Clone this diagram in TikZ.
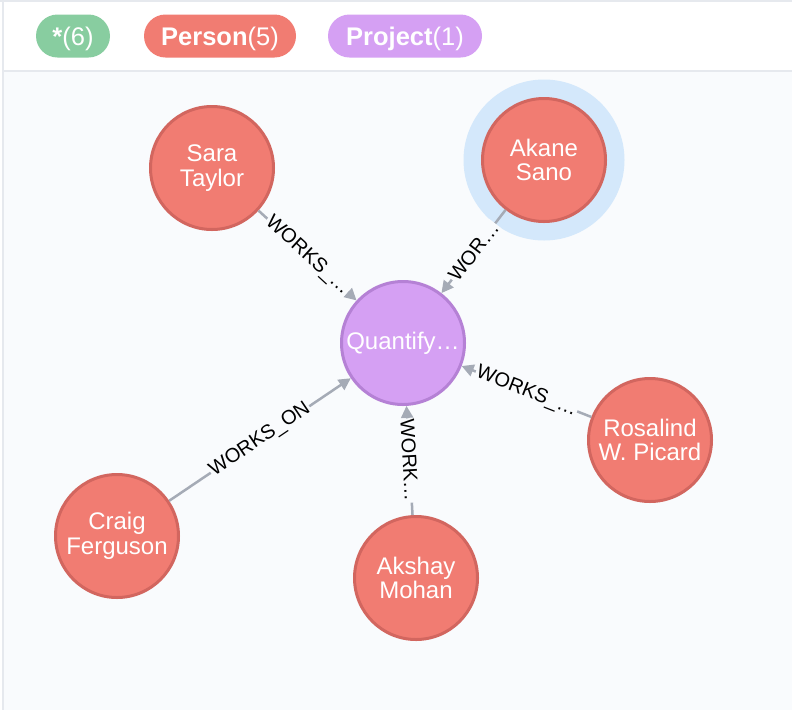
\documentclass[tikz,border=0pt]{standalone}
\usepackage{fontspec}
\setmainfont{Liberation Sans}
\usepackage{xcolor}
\usepackage{tikz}
\usetikzlibrary{arrows.meta}
\definecolor{canvas}{HTML}{F9FBFD}
\definecolor{frameline}{HTML}{E6E9EE}
\definecolor{personfill}{HTML}{F17C72}
\definecolor{persondraw}{HTML}{D2665F}
\definecolor{projectfill}{HTML}{D5A0F3}
\definecolor{projectdraw}{HTML}{B581D5}
\definecolor{allfill}{HTML}{88CDA0}
\definecolor{halofill}{HTML}{D4E8FB}
\definecolor{relgray}{HTML}{A5ABB6}
\tikzstyle{pill} = [rectangle, rounded corners=21.5pt, minimum height=43pt, inner sep=0pt, text height=18.3pt, text depth=0pt, text=white, font=\fontsize{25.5}{29}\selectfont]
\tikzstyle{allpill} = [pill, fill=allfill, minimum width=74pt]
\tikzstyle{personpill} = [pill, fill=personfill, minimum width=152pt]
\tikzstyle{projectpill} = [pill, fill=projectfill, minimum width=154pt]
\tikzstyle{entity} = [circle, minimum size=123pt, inner sep=0pt, line width=3pt, text=white, align=center, font=\fontsize{24}{24.5}\selectfont]
\tikzstyle{person} = [entity, fill=personfill, draw=persondraw]
\tikzstyle{project} = [entity, fill=projectfill, draw=projectdraw]
\tikzstyle{halo} = [circle, minimum size=161pt, inner sep=0pt, fill=halofill]
\tikzstyle{relarrow} = [line width=2.5pt, draw=relgray, -{Triangle[length=12pt,width=12pt]}]
\tikzstyle{rellabel} = [sloped, midway, fill=canvas, inner sep=1pt, text=black, font=\fontsize{20}{20}\selectfont]

\begin{document}
\begin{tikzpicture}[x=1pt, y=-1pt, node distance=0pt]
\useasboundingbox (0,0) rectangle (792,710);
% Sfondo
\fill[white] (0,0) rectangle (792,710);
\fill[canvas] (4,72) rectangle (792,710);
\fill[frameline] (0,0) rectangle (792,2);
\fill[frameline] (1.7,0) rectangle (4,710);
\fill[frameline] (4,69.5) rectangle (792,72);

% Etichette in alto
\node (allpill) [allpill] at (73,36) {\textbf{*}(6)};
\node (personpill) [personpill, right of=allpill, xshift=147pt] {\textbf{Person}(5)};
\node (projectpill) [projectpill, right of=personpill, xshift=185pt] {\textbf{Project}(1)};

% Nodi
\node (quant) [project] at (403,343) {Quantify…};
\node (sara) [person, above left of=quant, xshift=-191pt, yshift=175pt] {Sara\\Taylor};
\node (akanehalo) [halo, above right of=quant, xshift=141pt, yshift=183pt] {};
\node (akane) [person] at (akanehalo) {Akane\\Sano};
\node (rosalind) [person, below right of=quant, xshift=247pt, yshift=-97pt] {Rosalind\\W. Picard};
\node (akshay) [person, below of=quant, xshift=13pt, yshift=-235pt] {Akshay\\Mohan};
\node (craig) [person, below left of=quant, xshift=-286pt, yshift=-193pt] {Craig\\Ferguson};

% Relazioni
\draw [relarrow] (sara) -- node[rellabel] {WORKS\_…} (quant);
\draw [relarrow] (akane) -- node[rellabel] {WOR…} (quant);
\draw [relarrow] (rosalind) -- node[rellabel] {WORKS\_…} (quant);
\draw [relarrow] (akshay) -- node[rellabel] {WORK…} (quant);
\draw [relarrow] (craig) -- node[rellabel] {WORKS\_ON} (quant);

\end{tikzpicture}
\end{document}
